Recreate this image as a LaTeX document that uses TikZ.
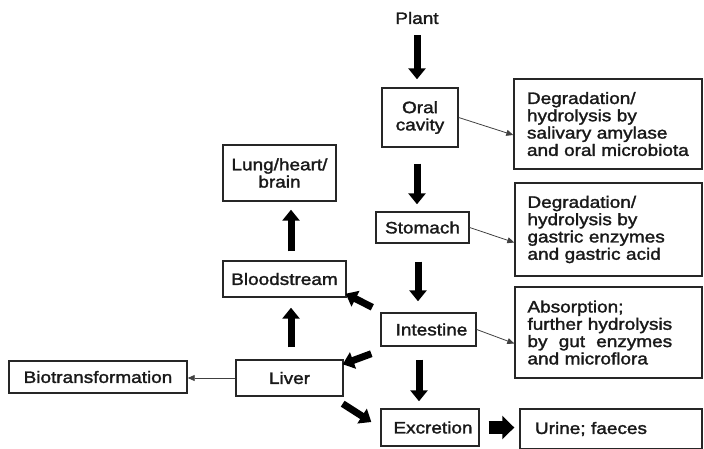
\documentclass[tikz,border=0pt]{standalone}
\usepackage{fontspec}
\setmainfont[FakeStretch=1.15,FakeBold=1.8]{Liberation Sans}
\usetikzlibrary{arrows.meta,calc}
\newcommand{\dfont}{\fontsize{16.5}{17.3}\selectfont}
\newsavebox{\fhbox}
\begin{document}
\begin{tikzpicture}[x=1pt,y=-1pt,
  box/.style={draw=black!85, line width=1.4pt, inner sep=0pt, align=center, font=\dfont, text=black!90},
  lbox/.style={box, align=left},
  fat/.style={line width=7pt, black, -{Triangle[length=11pt,width=17pt]}},
  fatter/.style={line width=13pt, black, -{Triangle[length=12pt,width=23pt]}},
  thin/.style={line width=0.8pt, black!75, -{Triangle[length=7pt,width=6pt]}}
]
\useasboundingbox (0,0) rectangle (704,448);

\node[font=\dfont, inner sep=0pt, text=black!90] (plant) at (417,18) {Plant};
\node[box, minimum width=76pt, minimum height=59pt] (oral) at (420,117.5) {Oral\\cavity};
\node[lbox, minimum width=188pt, minimum height=90pt, text width=162pt] (deg1) at (608,124)
  {Degradation/\\hydrolysis by\\salivary amylase\\and oral microbiota};
\node[box, minimum width=93pt, minimum height=31pt] (stomach) at (422.5,227.5) {Stomach};
\node[lbox, minimum width=187pt, minimum height=93pt, text width=162pt] (deg2) at (608.5,229.5)
  {Degradation/\\hydrolysis by\\gastric enzymes\\and gastric acid};
\node[box, minimum width=95pt, minimum height=33pt] (intestine) at (428.5,329.5) {\hspace{6pt}Intestine};
\node[lbox, minimum width=187pt, minimum height=91pt, text width=162pt] (absorb) at (608.5,332.5)
  {\sbox{\fhbox}{further hydrolysis}Absorption;\\further hydrolysis\\\makebox[\wd\fhbox][s]{by\hfill gut\hfill enzymes}\\and microflora};
\node[box, minimum width=98pt, minimum height=37pt] (excretion) at (430,427.5) {\hspace{6pt}Excretion};
\node[lbox, minimum width=182pt, minimum height=40pt, text width=152pt] (urine) at (611,429) {Urine; faeces};
\node[box, minimum width=113pt, minimum height=56pt] (lung) at (279.5,173) {Lung/heart/\\brain};
\node[box, minimum width=123pt, minimum height=36pt] (blood) at (284.5,279) {Bloodstream};
\node[box, minimum width=107pt, minimum height=36pt] (liver) at (289.5,378) {Liver};
\node[box, minimum width=178pt, minimum height=32pt] (bio) at (98,377) {Biotransformation};

% main vertical path
\draw[fat, shorten <=11pt, shorten >=8pt] (plant.south) -- (plant.south |- oral.north);
\draw[fat, shorten <=16pt, shorten >=7pt] ([xshift=-3pt]oral.south) -- ([xshift=-3pt]oral.south |- stomach.north);
\draw[fat, shorten <=18pt, shorten >=11pt] ([xshift=-4.5pt]stomach.south) -- ([xshift=-4.5pt]stomach.south |- intestine.north);
\draw[fat, shorten <=13pt, shorten >=7pt] ([xshift=-9.5pt]intestine.south) -- ([xshift=-9.5pt]intestine.south |- excretion.north);
\draw[fatter, shorten <=9pt, shorten >=5pt] (excretion.east) -- (excretion.east -| urine.west);

% thin side arrows
\draw[thin] (oral.east) -- ($(deg1.west)+(0,11)$);
\draw[thin] (stomach.east) -- ($(deg2.west)+(0,13)$);
\draw[thin] (intestine.east) -- ($(absorb.west)+(0,11)$);
\draw[thin] (liver.west) -- (liver.west -| bio.east);

% left branch
\draw[fat, shorten <=12pt, shorten >=10pt] ([xshift=1.5pt]liver.north) -- ([xshift=1.5pt]liver.north |- blood.south);
\draw[fat, shorten <=9pt, shorten >=8pt] ([xshift=6.5pt]blood.north) -- ([xshift=6.5pt]blood.north |- lung.south);

% diagonal arrows
\draw[fat] ($(intestine.north west)+(-8,-5)$) -- ($(blood.south east)+(-1,-4)$);
\draw[fat] ($(intestine.south west)+(-9,7)$) -- ($(liver.north east)+(-1,5)$);
\draw[fat] ($(liver.south east)+(-1,7)$) -- ($(excretion.west)+(-9,-5.5)$);
\end{tikzpicture}
\end{document}
